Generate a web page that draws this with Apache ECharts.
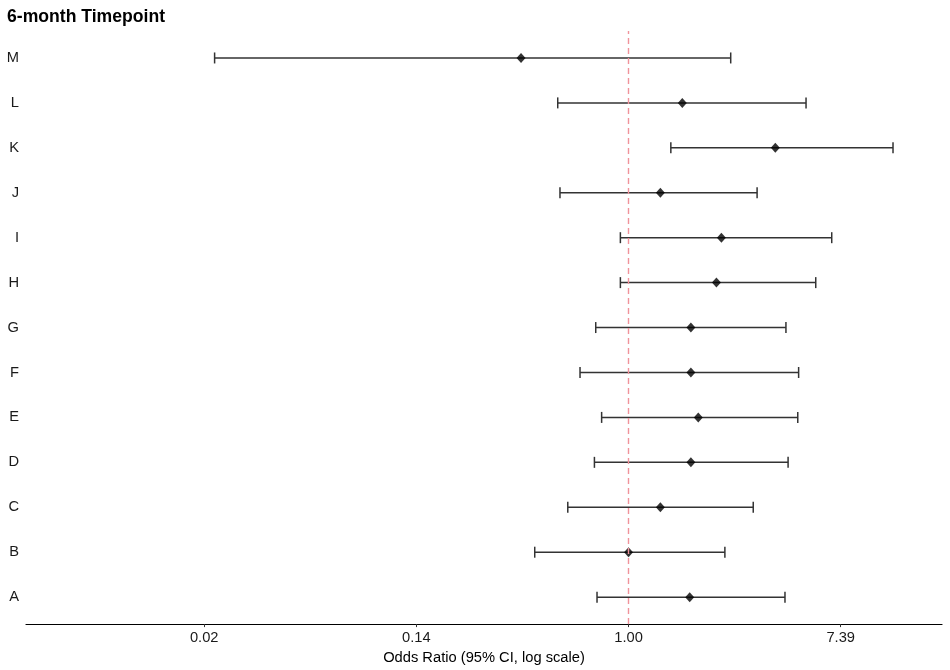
<!DOCTYPE html>
<html>
<head>
<meta charset="utf-8">
<script src="https://cdn.jsdelivr.net/npm/echarts@6/dist/echarts.min.js"></script>
<style>html,body{margin:0;padding:0;background:#fff}#c{width:950px;height:670px}</style>
</head>
<body>
<div id="c"></div>
<script>
// Categories bottom to top
const categories = ['A','B','C','D','E','F','G','H','I','J','K','L','M'];
// Odds ratios (point estimate) and 95% CI bounds
const oddsRatio = [1.78, 1.00, 1.35, 1.80, 1.93, 1.80, 1.80, 2.29, 2.40, 1.35, 3.99, 1.66, 0.363];
const ciLower   = [0.743, 0.413, 0.564, 0.725, 0.776, 0.633, 0.734, 0.926, 0.926, 0.524, 1.49, 0.513, 0.0202];
const ciUpper   = [4.37, 2.48, 3.24, 4.50, 4.93, 4.97, 4.41, 5.84, 6.79, 3.36, 12.10, 5.33, 2.62];
// X tick positions (natural-log units) and their labels
const tickLogValues = [-4, -2, 0, 2];
const tickLabels = ['0.02', '0.14', '1.00', '7.39'];
const titleText = '6-month Timepoint';
const xAxisTitle = 'Odds Ratio (95% CI, log scale)';

const ciData = categories.map((c, i) => [Math.log(ciLower[i]), Math.log(ciUpper[i]), i]);
const ptData = categories.map((c, i) => [Math.log(oddsRatio[i]), i]);

const chart = echarts.init(document.getElementById('c'));
const FONT = '"Liberation Sans", Arial, Helvetica, sans-serif';
chart.setOption({
  backgroundColor: '#fff',
  animation: false,
  title: {
    text: titleText, left: 2, top: 3,
    textStyle: {fontFamily: FONT, fontSize: 17.6, fontWeight: 'bold', color: '#000'}
  },
  grid: {left: 26, right: 8, top: 31, bottom: 45, containLabel: false},
  xAxis: {
    type: 'value', min: -5.68, max: 2.955,
    name: xAxisTitle, nameLocation: 'middle', nameGap: 25,
    nameTextStyle: {fontFamily: FONT, fontSize: 14.7, color: '#000'},
    axisLine: {show: true, onZero: false, lineStyle: {color: '#000', width: 1.2}},
    axisTick: {show: true, length: 3, customValues: tickLogValues, lineStyle: {color: '#333', width: 1}},
    axisLabel: {
      customValues: tickLogValues, margin: 6,
      fontFamily: FONT, fontSize: 14.7, color: '#1a1a1a',
      formatter: v => tickLabels[tickLogValues.indexOf(v)] ?? ''
    },
    splitLine: {show: false}
  },
  yAxis: {
    type: 'value', min: -0.6, max: categories.length - 1 + 0.6,
    axisLine: {show: false}, axisTick: {show: false}, splitLine: {show: false},
    axisLabel: {
      customValues: categories.map((c, i) => i), margin: 7, align: 'right',
      fontFamily: FONT, fontSize: 14.7, color: '#1a1a1a',
      formatter: v => categories[Math.round(v)] ?? ''
    }
  },
  series: [
    {
      type: 'custom',
      data: ciData,
      encode: {x: [0, 1], y: 2},
      z: 2,
      renderItem: (params, api) => {
        const lo = api.coord([api.value(0), api.value(2)]);
        const hi = api.coord([api.value(1), api.value(2)]);
        const h = 5.5;
        const style = {stroke: '#333', lineWidth: 1.5, fill: null};
        return {
          type: 'group',
          children: [
            {type: 'line', shape: {x1: lo[0], y1: lo[1], x2: hi[0], y2: hi[1]}, style},
            {type: 'line', shape: {x1: lo[0], y1: lo[1] - h, x2: lo[0], y2: lo[1] + h}, style},
            {type: 'line', shape: {x1: hi[0], y1: hi[1] - h, x2: hi[0], y2: hi[1] + h}, style}
          ]
        };
      }
    },
    {
      type: 'scatter',
      data: ptData,
      symbol: 'diamond',
      symbolSize: [9, 10],
      itemStyle: {color: '#000'},
      z: 4
    },
    {
      type: 'line',
      data: [],
      z: 10,
      markLine: {
        silent: true, symbol: 'none', label: {show: false},
        lineStyle: {type: [6, 4], color: '#f0939b', width: 1.4},
        data: [{xAxis: 0}]
      }
    }
  ]
});
</script>
</body>
</html>
